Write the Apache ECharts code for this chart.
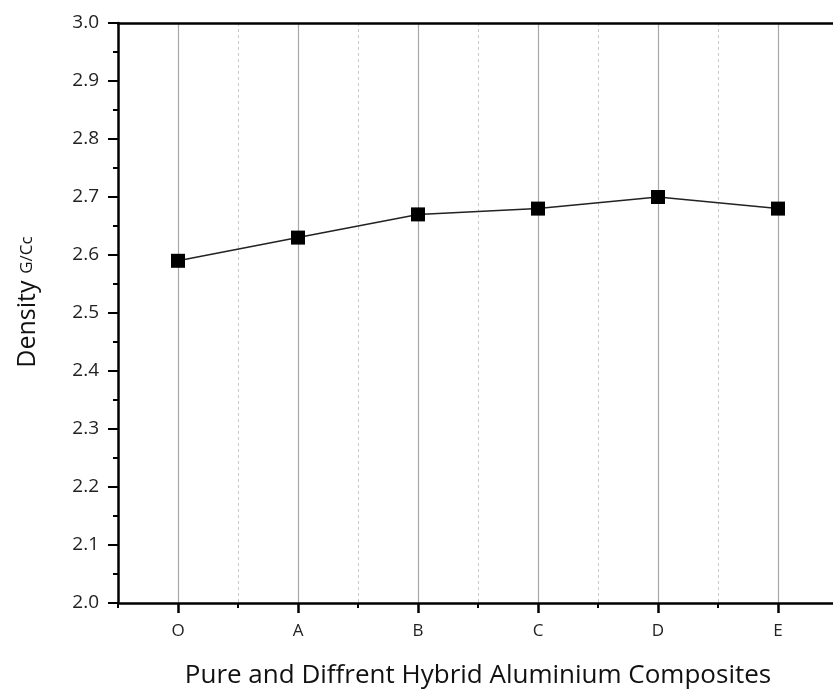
<!DOCTYPE html>
<html><head><meta charset="utf-8">
<script src="https://cdn.jsdelivr.net/npm/echarts@6/dist/echarts.min.js"></script>
<style>html,body{margin:0;padding:0;background:#fff}#c{width:833px;height:696px}</style>
</head><body><div id="c"></div>
<script>
const categories = ['O', 'A', 'B', 'C', 'D', 'E'];
const density = [2.59, 2.63, 2.67, 2.68, 2.70, 2.68];
const yMin = 2.0, yMax = 3.0, yStep = 0.1;

const FONT = '"Open Sans", "DejaVu Sans", sans-serif';
const chart = echarts.init(document.getElementById('c'), null, {renderer: 'canvas'});
chart.setOption({
  animation: false,
  backgroundColor: '#fff',
  grid: {left: 118, width: 720, top: 23, height: 580, containLabel: false, outerBoundsMode: 'none'},
  xAxis: [
    {
      type: 'category', data: categories, boundaryGap: true, position: 'bottom',
      name: 'Pure and Diffrent Hybrid Aluminium Composites',
      nameLocation: 'middle', nameGap: 60,
      nameTextStyle: {fontFamily: FONT, fontSize: 26, color: '#111'},
      axisLine: {show: true, lineStyle: {color: '#000', width: 2.5}},
      axisTick: {show: true, length: 5, lineStyle: {color: '#000', width: 2}},
      axisLabel: {show: true, margin: 20, fontFamily: FONT, fontSize: 17, color: '#222'},
      splitLine: {show: true, lineStyle: {color: '#c8c8c8', width: 1, type: [3, 3]}}
    },
    {
      type: 'category', data: categories, boundaryGap: true, position: 'bottom',
      axisLine: {show: false},
      axisTick: {show: true, alignWithLabel: true, length: 10, lineStyle: {color: '#000', width: 2.5}},
      axisLabel: {show: false},
      splitLine: {show: true, alignWithLabel: true, lineStyle: {color: '#a8a8a8', width: 1.2}}
    },
    {
      type: 'category', data: categories, position: 'top',
      axisLine: {show: true, lineStyle: {color: '#000', width: 2.5}},
      axisTick: {show: false}, axisLabel: {show: false}, splitLine: {show: false}
    }
  ],
  yAxis: {
    type: 'value', min: yMin, max: yMax, interval: yStep,
    name: '{a|Density}  {b|G/Cc}',
    nameLocation: 'middle', nameGap: 78, nameRotate: 90,
    nameTextStyle: {padding: [0, 0, 0, 22], rich: {
      a: {fontFamily: FONT, fontSize: 25, color: '#111'},
      b: {fontFamily: FONT, fontSize: 17, color: '#111'}
    }},
    axisLine: {show: true, lineStyle: {color: '#000', width: 2.5}},
    axisTick: {show: true, length: 10, lineStyle: {color: '#000', width: 2}},
    minorTick: {show: true, splitNumber: 2, length: 5, lineStyle: {color: '#000', width: 2}},
    axisLabel: {margin: 19, fontFamily: FONT, fontSize: 19, color: '#222',
      formatter: v => v.toFixed(1)},
    splitLine: {show: false}
  },
  series: [{
    type: 'line', xAxisIndex: 0, data: density,
    symbol: 'rect', symbolSize: 14,
    lineStyle: {color: '#222', width: 1.5},
    itemStyle: {color: '#000'}
  }]
});
</script></body></html>
